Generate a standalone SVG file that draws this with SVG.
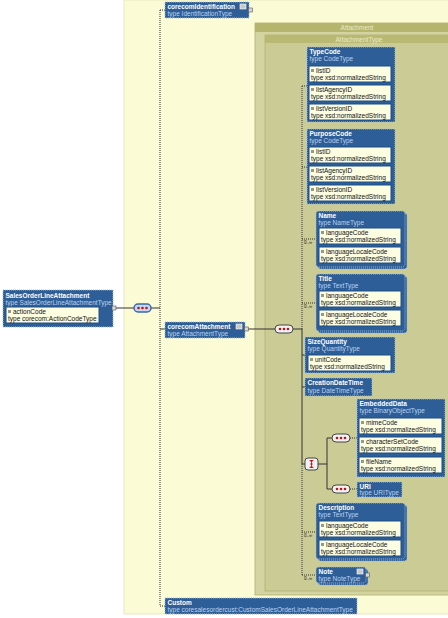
<svg xmlns="http://www.w3.org/2000/svg" width="448" height="618" viewBox="0 0 448 618">
<style>
text{font-family:"Liberation Sans",Arial,sans-serif;font-size:6.5px}
.nb{fill:#2d5e97;stroke:#a4bcdc;stroke-width:1;stroke-dasharray:1 1}
.bk{fill:#2d5e97;stroke:#a4bcdc;stroke-width:1;stroke-dasharray:1 1}
.nm{fill:#fff;font-weight:bold}
.ty{fill:#bcd2f0}
.at{fill:#fdfde2;stroke:#1f4f88;stroke-width:1}
.atx{fill:#111}
.sol{stroke:#333;stroke-width:1;fill:none}
.dot{stroke:#333;stroke-width:1;fill:none;stroke-dasharray:1 1}
.occ{font-size:4.5px;fill:#222}
.seq{fill:#f2f2f2;stroke:#444;stroke-width:1}
.rd{fill:#c0101a}
.ic{fill:#c8c8c8;stroke:#fff;stroke-width:0.6}
.ex{fill:#d8d8d8;stroke:#555;stroke-width:0.6}
.hd{fill:#ecebc6;font-size:6.5px;text-anchor:middle}
</style>
<defs>
<g id="aicon"><path d="M0 -3.5h3M0 -2.5h3M0 -1.5h3" stroke="#333" stroke-width="0.5"/></g>
<g id="dots"><circle cx="5" cy="4" r="1.3" class="rd"/><circle cx="9" cy="4" r="1.3" class="rd"/><circle cx="13" cy="4" r="1.3" class="rd"/></g>
</defs>
<rect x="0" y="0" width="448" height="618" fill="#fff"/>
<rect x="124" y="0" width="330" height="614" fill="#fbfbd5" stroke="#e4e4b8" stroke-width="0.8"/>
<g id="Attachment-group">
<rect x="255" y="23" width="200" height="572" fill="#d4d4a2" stroke="#b0b070" stroke-width="0.8"/>
<rect x="255" y="23" width="200" height="9" fill="#b5b56e"/>
<text class="hd" x="357" y="30">Attachment</text>
<rect x="265" y="35" width="190" height="556" fill="#cbcb96" stroke="#b0b070" stroke-width="0.8"/>
<rect x="265" y="35" width="190" height="8" fill="#b9b973"/>
<text class="hd" x="359" y="41.5">AttachmentType</text>
</g>
<g id="connectors">
<path class="sol" d="M115 308H134M151 308H160"/>
<path class="dot" d="M160 10V606M160 10H165M160 606H165"/>
<path class="sol" d="M160 329H165M247 329H275M293 329H302"/>
<path class="dot" d="M302 86V329M302 86H307M302 167H307M302 239H316M302 303H316"/>
<path class="sol" d="M302 329V464M302 355H305M302 387H305M302 464H305"/>
<path class="dot" d="M302 464V575M302 532H316M302 575H316"/>
<path class="sol" d="M318 464H327M327 438V489M327 438H332M327 489H332"/>
<path class="dot" d="M350 438H357M350 489H357"/>
<text class="occ" x="304" y="243.5">0..∞</text>
<text class="occ" x="304" y="307.5">0..∞</text>
<text class="occ" x="304" y="536.5">0..∞</text>
<text class="occ" x="304" y="579.5">0..∞</text>
<g id="seq-main"><rect x="134" y="304" width="17" height="8" rx="4" fill="#c6d8f2" stroke="#3a6aa8" stroke-width="1.5"/><use href="#dots" x="133.5" y="304"/></g>
<g id="seq-att"><rect x="275" y="325" width="18" height="8" rx="4" class="seq"/><use href="#dots" x="275" y="325"/></g>
<g id="choice"><rect x="305" y="458" width="13" height="12" rx="3" class="seq"/><path d="M311.5 460V468M309.5 460.5H313.5M309.5 467.5H313.5" stroke="#c0101a" stroke-width="0.8" fill="none"/><circle cx="311.5" cy="461" r="1.1" class="rd"/><circle cx="311.5" cy="464" r="1.1" class="rd"/><circle cx="311.5" cy="467" r="1.1" class="rd"/></g>
<g id="seq-emb"><rect x="332" y="434" width="18" height="8" rx="4" class="seq"/><use href="#dots" x="332" y="434"/></g>
<g id="seq-uri"><rect x="332" y="485" width="18" height="8" rx="4" class="seq"/><use href="#dots" x="332" y="485"/></g>
</g>
<g id="SalesOrderLineAttachment">
<rect class="nb" x="3" y="290" width="110" height="37"/>
<text class="nm" x="5.5" y="297.5">SalesOrderLineAttachment</text>
<text class="ty" x="5.5" y="304.5">type SalesOrderLineAttachmentType</text>
<rect class="at" x="6" y="307" width="93" height="16"/>
<use href="#aicon" x="8" y="314"/>
<text class="atx" x="13" y="313.5">actionCode</text>
<text class="atx" x="8" y="320.5">type corecom:ActionCodeType</text>
<rect class="ex" x="112" y="306" width="4" height="4"/>
</g>
<g id="corecomIdentification">
<rect class="nb" x="165" y="2" width="84" height="16"/>
<text class="nm" x="167.5" y="8.5">corecomIdentification</text>
<text class="ty" x="167.5" y="15.5">type IdentificationType</text>
<rect class="ic" x="240" y="4" width="6" height="5"/>
<rect class="ex" x="248.5" y="8" width="4" height="4"/>
</g>
<g id="corecomAttachment">
<rect class="nb" x="165" y="322" width="80" height="16"/>
<text class="nm" x="167.5" y="328.5">corecomAttachment</text>
<text class="ty" x="167.5" y="335.5">type AttachmentType</text>
<rect class="ic" x="236" y="324" width="6" height="5"/>
<rect class="ex" x="244.5" y="327" width="4" height="4"/>
</g>
<g id="TypeCode">
<rect class="nb" x="307" y="47" width="88" height="75"/>
<text class="nm" x="309.5" y="54">TypeCode</text>
<text class="ty" x="309.5" y="61">type CodeType</text>
<rect class="at" x="309" y="66" width="82" height="16"/><use href="#aicon" x="311" y="73"/><text class="atx" x="316" y="72.5">listID</text><text class="atx" x="311" y="79.5">type xsd:normalizedString</text>
<rect class="at" x="309" y="85" width="82" height="16"/><use href="#aicon" x="311" y="92"/><text class="atx" x="316" y="91.5">listAgencyID</text><text class="atx" x="311" y="98.5">type xsd:normalizedString</text>
<rect class="at" x="309" y="104" width="82" height="16"/><use href="#aicon" x="311" y="111"/><text class="atx" x="316" y="110.5">listVersionID</text><text class="atx" x="311" y="117.5">type xsd:normalizedString</text>
</g>
<g id="PurposeCode">
<rect class="nb" x="307" y="129" width="88" height="75"/>
<text class="nm" x="309.5" y="136">PurposeCode</text>
<text class="ty" x="309.5" y="143">type CodeType</text>
<rect class="at" x="309" y="147" width="82" height="16"/><use href="#aicon" x="311" y="154"/><text class="atx" x="316" y="153.5">listID</text><text class="atx" x="311" y="160.5">type xsd:normalizedString</text>
<rect class="at" x="309" y="166" width="82" height="16"/><use href="#aicon" x="311" y="173"/><text class="atx" x="316" y="172.5">listAgencyID</text><text class="atx" x="311" y="179.5">type xsd:normalizedString</text>
<rect class="at" x="309" y="185" width="82" height="16"/><use href="#aicon" x="311" y="192"/><text class="atx" x="316" y="191.5">listVersionID</text><text class="atx" x="311" y="198.5">type xsd:normalizedString</text>
</g>
<g id="Name">
<rect class="bk" x="318" y="213" width="89" height="56" rx="3"/>
<rect class="nb" x="316" y="211" width="89" height="56" rx="3"/>
<text class="nm" x="318.5" y="218">Name</text>
<text class="ty" x="318.5" y="225">type NameType</text>
<rect class="at" x="319" y="228" width="82" height="16"/><use href="#aicon" x="321" y="235"/><text class="atx" x="326" y="234.5">languageCode</text><text class="atx" x="321" y="241.5">type xsd:normalizedString</text>
<rect class="at" x="319" y="247" width="82" height="16"/><use href="#aicon" x="321" y="254"/><text class="atx" x="326" y="253.5">languageLocaleCode</text><text class="atx" x="321" y="260.5">type xsd:normalizedString</text>
</g>
<g id="Title">
<rect class="bk" x="318" y="276" width="89" height="57" rx="3"/>
<rect class="nb" x="316" y="274" width="89" height="57" rx="3"/>
<text class="nm" x="318.5" y="281">Title</text>
<text class="ty" x="318.5" y="288">type TextType</text>
<rect class="at" x="319" y="291" width="82" height="16"/><use href="#aicon" x="321" y="298"/><text class="atx" x="326" y="297.5">languageCode</text><text class="atx" x="321" y="304.5">type xsd:normalizedString</text>
<rect class="at" x="319" y="310" width="82" height="16"/><use href="#aicon" x="321" y="317"/><text class="atx" x="326" y="316.5">languageLocaleCode</text><text class="atx" x="321" y="323.5">type xsd:normalizedString</text>
</g>
<g id="SizeQuantity">
<rect class="nb" x="305" y="337" width="90" height="36"/>
<text class="nm" x="307.5" y="344">SizeQuantity</text>
<text class="ty" x="307.5" y="351">type QuantityType</text>
<rect class="at" x="308" y="355" width="83" height="16"/><use href="#aicon" x="310" y="362"/><text class="atx" x="315" y="361.5">unitCode</text><text class="atx" x="310" y="368.5">type xsd:normalizedString</text>
</g>
<g id="CreationDateTime">
<rect class="nb" x="305" y="378" width="67" height="18"/>
<text class="nm" x="307.5" y="385">CreationDateTime</text>
<text class="ty" x="307.5" y="392.5">type DateTimeType</text>
</g>
<g id="EmbeddedData">
<rect class="nb" x="357" y="399" width="88" height="78"/>
<text class="nm" x="359.5" y="406">EmbeddedData</text>
<text class="ty" x="359.5" y="413">type BinaryObjectType</text>
<rect class="at" x="359" y="418" width="83" height="16"/><use href="#aicon" x="361" y="425"/><text class="atx" x="366" y="424.5">mimeCode</text><text class="atx" x="361" y="431.5">type xsd:normalizedString</text>
<rect class="at" x="359" y="437" width="83" height="16"/><use href="#aicon" x="361" y="444"/><text class="atx" x="366" y="443.5">characterSetCode</text><text class="atx" x="361" y="450.5">type xsd:normalizedString</text>
<rect class="at" x="359" y="457" width="83" height="16"/><use href="#aicon" x="361" y="464"/><text class="atx" x="366" y="463.5">fileName</text><text class="atx" x="361" y="470.5">type xsd:normalizedString</text>
</g>
<g id="URI">
<rect class="nb" x="357" y="482" width="45" height="15"/>
<text class="nm" x="359.5" y="488.5">URI</text>
<text class="ty" x="359.5" y="495">type URIType</text>
</g>
<g id="Description">
<rect class="bk" x="318" y="505" width="89" height="56" rx="3"/>
<rect class="nb" x="316" y="503" width="89" height="56" rx="3"/>
<text class="nm" x="318.5" y="510">Description</text>
<text class="ty" x="318.5" y="517">type TextType</text>
<rect class="at" x="319" y="521" width="82" height="16"/><use href="#aicon" x="321" y="528"/><text class="atx" x="326" y="527.5">languageCode</text><text class="atx" x="321" y="534.5">type xsd:normalizedString</text>
<rect class="at" x="319" y="540" width="82" height="16"/><use href="#aicon" x="321" y="547"/><text class="atx" x="326" y="546.5">languageLocaleCode</text><text class="atx" x="321" y="553.5">type xsd:normalizedString</text>
</g>
<g id="Note">
<rect class="bk" x="318" y="569" width="50" height="16" rx="3"/>
<rect class="nb" x="316" y="567" width="50" height="16" rx="3"/>
<text class="nm" x="318.5" y="573.5">Note</text>
<text class="ty" x="318.5" y="580.5">type NoteType</text>
<rect class="ic" x="357" y="569" width="6" height="5"/>
<rect class="ex" x="365.5" y="573" width="4" height="4"/>
</g>
<g id="Custom">
<rect class="nb" x="165" y="598" width="192" height="16"/>
<text class="nm" x="167.5" y="604.5">Custom</text>
<text class="ty" x="167.5" y="611.5">type coresalesordercust:CustomSalesOrderLineAttachmentType</text>
</g>
</svg>
